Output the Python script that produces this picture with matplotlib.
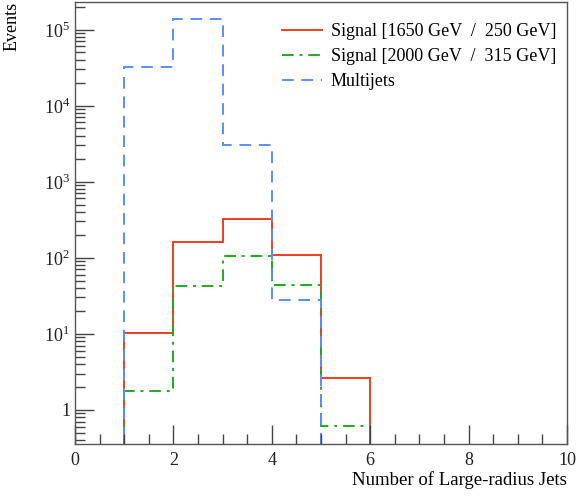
import numpy as np
import matplotlib
matplotlib.use('Agg')
import matplotlib.pyplot as plt
from matplotlib.ticker import FixedLocator, LogLocator, FuncFormatter, NullFormatter

plt.rcParams['font.family'] = ['Liberation Serif', 'DejaVu Serif']
plt.rcParams['mathtext.fontset'] = 'custom'
plt.rcParams['mathtext.rm'] = 'Liberation Serif'

# Histogram data (bin edges 0..10, unit width)
edges = np.arange(0, 11)
signal_1650 = [0, 10.2, 163, 321, 107, 2.58, 0, 0, 0, 0]
signal_2000 = [0, 1.75, 43, 104, 44, 0.61, 0, 0, 0, 0]
multijets = [0, 3.2e4, 1.37e5, 3.0e3, 27.6, 0, 0, 0, 0, 0]

labels = ['Signal [1650 GeV  /  250 GeV]',
          'Signal [2000 GeV  /  315 GeV]',
          'Multijets']
colors = ['#f03c1e', '#1faa1f', '#5a8cff']

fig = plt.figure(figsize=(5.78, 4.96), dpi=100)
ax = fig.add_axes([75/578, 52/496, 492/578, 442/496])

tiny = 1e-3
def clean(v):
    v = np.array(v, dtype=float)
    v[v <= 0] = tiny
    return v

ax.stairs(clean(signal_1650), edges, baseline=tiny, color=colors[0], lw=1.4,
          label=labels[0])
ax.stairs(clean(signal_2000), edges, baseline=tiny, color=colors[1], lw=1.4,
          linestyle=(0, (6, 3, 1.5, 3)), label=labels[1])
ax.stairs(clean(multijets), edges, baseline=tiny, color=colors[2], lw=1.4,
          linestyle=(0, (6, 4)), label=labels[2])

ax.set_yscale('log')
ax.set_xlim(0, 10)
ax.set_ylim(0.355, 2.3e5)

ax.xaxis.set_major_locator(FixedLocator([0, 2, 4, 6, 8, 10]))
ax.xaxis.set_minor_locator(FixedLocator(np.arange(0, 10.01, 0.5)))
ax.yaxis.set_major_locator(LogLocator(base=10, numticks=20))
ax.yaxis.set_minor_locator(LogLocator(base=10, subs=np.arange(2, 10), numticks=20))
ax.yaxis.set_minor_formatter(NullFormatter())

def yfmt(v, pos):
    e = int(round(np.log10(v)))
    if e == 0:
        return '1'
    return r'$10^{%d}$' % e
ax.yaxis.set_major_formatter(FuncFormatter(yfmt))

ax.tick_params(which='both', direction='in', top=False, right=False,
               labelsize=13, colors='#222222', width=1)
ax.tick_params(which='major', length=14, color='#444444')
ax.tick_params(which='minor', length=7, color='#444444')
ax.tick_params(axis='x', pad=6)
for s in ax.spines.values():
    s.set_color('#555555')
    s.set_linewidth(1.0)

fig.text(12/578, 1 - 2/496, 'Events', rotation=90, ha='center', va='top', fontsize=13)
fig.text(567/578, 1 - 480/496, 'Number of Large-radius Jets', ha='right',
         va='center', fontsize=13.5)

ax.legend(loc='upper left', bbox_to_anchor=(282/578, 1 - 23/496),
          bbox_transform=fig.transFigure, frameon=False, borderpad=0,
          borderaxespad=0, fontsize=13, handlelength=2.2, handletextpad=0.5,
          labelspacing=0.45)

fig.savefig('out.png', dpi=100)
